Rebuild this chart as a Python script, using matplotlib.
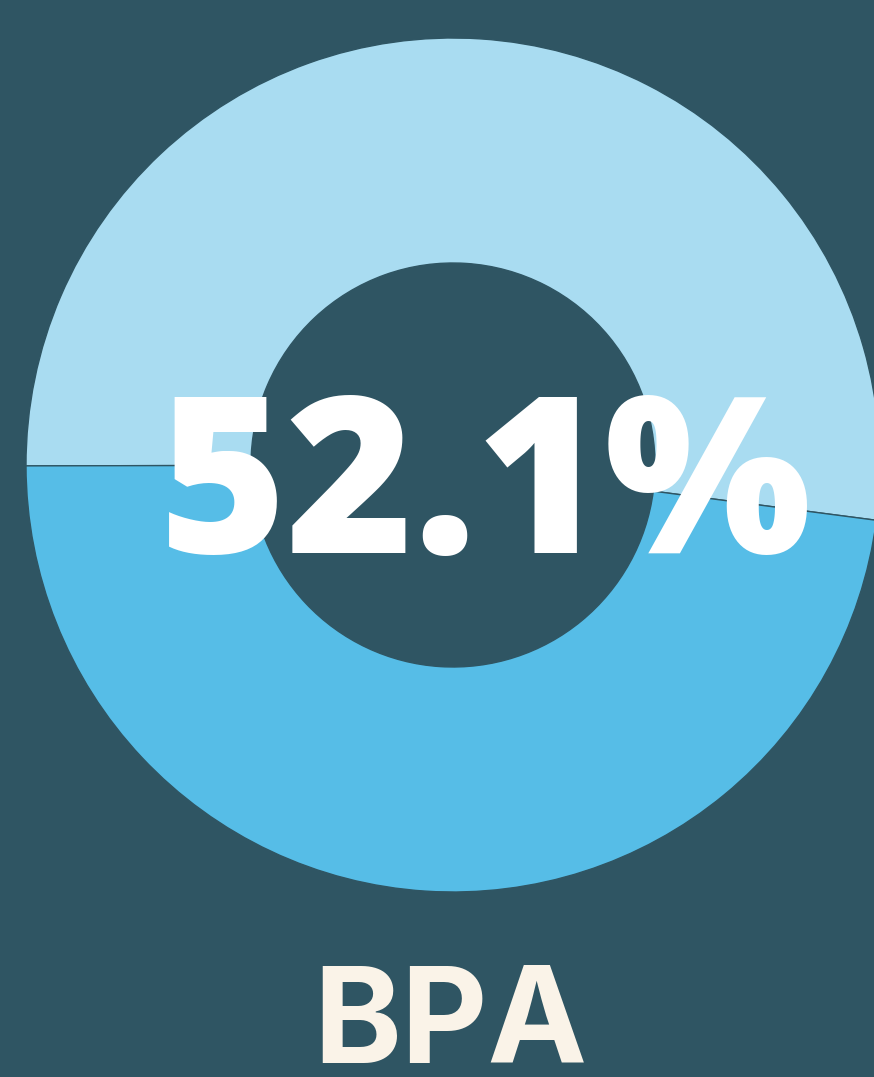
import matplotlib
matplotlib.use("Agg")
import matplotlib.pyplot as plt

labels = ["BPA", "Other"]
values = [52.1, 47.9]
center_label = "52.1%"
title = "BPA"

BG = "#2F5563"
colors = ["#A9DCF1", "#56BDE7"]

W, H = 874, 1077
fig = plt.figure(figsize=(W / 100, H / 100), dpi=100, facecolor=BG)
ax = fig.add_axes([0, 0, 1, 1])
ax.set_facecolor(BG)

R = 427.0
cx, cy = 453.0, 465.0  # pixel center from top-left

ax.pie(values, colors=colors, startangle=-7.44, counterclock=True,
       radius=1.0, wedgeprops=dict(width=1 - 202 / R, edgecolor=BG, linewidth=1.0))

ax.set_xlim(-cx / R, (W - cx) / R)
ax.set_ylim(-(H - cy) / R, cy / R)
ax.set_aspect("equal", adjustable="box")
ax.axis("off")

def px(x, y):
    return (x - cx) / R, (cy - y) / R

tx, ty = px(485, 553)
ax.text(tx, ty, center_label, ha="center", va="baseline", color="white",
        fontsize=157, fontweight=800, family=["Open Sans", "DejaVu Sans"])

bx, by = px(450, 1063)
ax.text(bx, by, title, ha="center", va="baseline", color="#FAF3E8",
        fontsize=96, fontweight="bold", family=["Inter", "DejaVu Sans"])

fig.savefig("out.png", dpi=100, facecolor=BG)
